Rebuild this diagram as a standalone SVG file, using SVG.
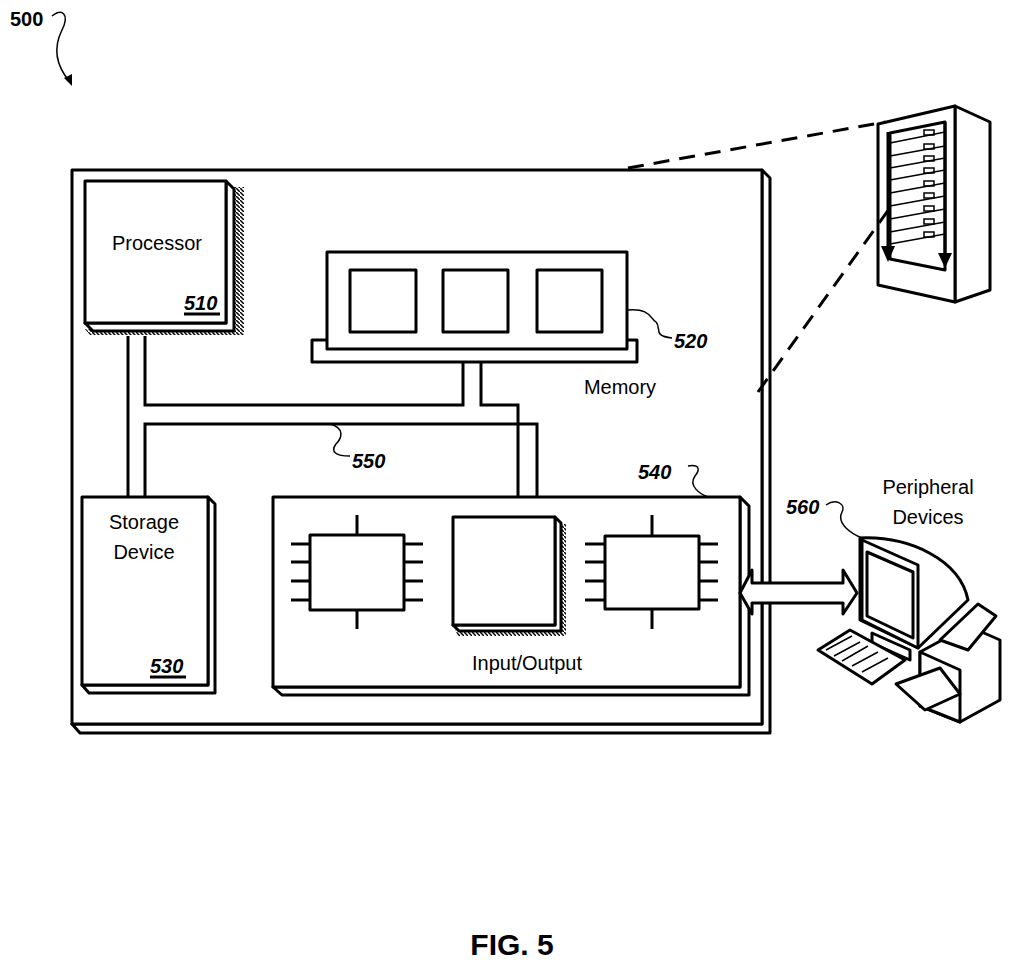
<svg xmlns="http://www.w3.org/2000/svg" width="1024" height="967" viewBox="0 0 1024 967">
<defs>
<style>
.s{fill:#fff;stroke:#000;stroke-width:3;stroke-linejoin:round}
.l{fill:none;stroke:#000;stroke-width:3}
.t{fill:none;stroke:#000;stroke-width:1.5}
.d{fill:none;stroke:#000;stroke-width:3;stroke-dasharray:16 10}
text{font-family:"Liberation Sans",Arial,sans-serif;fill:#000}
.lab{font-size:20px}
.num{font-size:20px;font-weight:bold;font-style:italic}
</style>
<pattern id="hv" width="4" height="4" patternUnits="userSpaceOnUse"><path d="M0,0 L4,4" stroke="#000" stroke-width="1.5"/></pattern>
</defs>
<rect width="1024" height="967" fill="#fff"/>
<g id="n500"><text class="num" x="10" y="26" style="font-style:normal">500</text>
<path class="t" d="M52,16 C62,8 70,14 62,30 C52,50 58,68 70,82"/><path d="M64,78 L72,86 L72,74 Z"/></g>
<g id="board">
<polygon class="s" points="762,170 770,178 770,733 80,733 72,724 762,724"/>
<rect class="s" x="72" y="170" width="690" height="554"/>
</g>
<g id="processor">
<polygon points="226,181 232,187 244,187 244,335 90,335 85,329 226,329" fill="url(#hv)"/>
<polygon class="s" points="226,181 234,189 234,331 93,331 85,323 226,323"/>
<rect class="s" x="85" y="181" width="141" height="142"/>
<text class="lab" x="157" y="250" text-anchor="middle">Processor</text>
<text class="num" x="184" y="310">510</text><path class="l" d="M184,314 H220" stroke-width="2"/>
</g>
<g id="memory">
<rect class="s" x="312" y="340" width="325" height="22"/>
<rect class="s" x="327" y="252" width="300" height="97"/>
<rect class="s" x="350" y="270" width="66" height="62"/>
<rect class="s" x="443" y="270" width="65" height="62"/>
<rect class="s" x="537" y="270" width="65" height="62"/>
<text class="lab" x="620" y="394" text-anchor="middle">Memory</text>
<path class="t" d="M627,310 C650,308 650,318 656,322 C662,328 652,336 672,338"/>
<text class="num" x="674" y="348">520</text>
</g>
<g id="bus550"><path class="t" d="M330,424 C345,428 342,438 336,444 C330,452 336,456 350,456"/>
<text class="num" x="352" y="468">550</text></g>
<g id="storage">
<polygon class="s" points="208,497 215,504 215,693 89,693 82,685 208,685"/>
<rect class="s" x="82" y="497" width="126" height="188"/>
<text class="lab" x="144" y="529" text-anchor="middle">Storage</text>
<text class="lab" x="144" y="559" text-anchor="middle">Device</text>
<text class="num" x="150" y="673">530</text><path class="l" d="M150,677 H186" stroke-width="2"/>
</g>
<g id="io">
<polygon class="s" points="740,497 749,506 749,695 282,695 273,687 740,687"/>
<rect class="s" x="273" y="497" width="467" height="190"/>
<path class="l" d="M291,544 H310 M291,562 H310 M291,581 H310 M291,600 H310 M404,544 H423 M404,562 H423 M404,581 H423 M404,600 H423 M357,515 V535 M357,610 V629"/>
<rect class="s" x="310" y="535" width="94" height="75"/>
<path class="l" d="M585,544 H605 M585,562 H605 M585,581 H605 M585,600 H605 M699,544 H718 M699,562 H718 M699,581 H718 M699,600 H718 M652,515 V536 M652,609 V629"/>
<rect class="s" x="605" y="536" width="94" height="73"/>
<polygon points="555,517 562,524 566,524 566,636 458,636 453,625 555,625" fill="url(#hv)"/>
<polygon class="s" points="555,517 561,523 561,631 459,631 453,625 555,625"/>
<rect class="s" x="453" y="517" width="102" height="108"/>
<text class="lab" x="527" y="670" text-anchor="middle">Input/Output</text>
<path class="t" d="M688,466 C700,464 700,470 695,476 C688,486 700,494 708,497"/>
<text class="num" x="638" y="479">540</text>
</g>
<g id="server">
<polygon class="s" points="955,106 990,122 990,290 955,302"/>
<polygon class="s" points="878,124 955,106 955,302 878,285"/>
<polygon class="s" points="890,133 945,122 945,270 890,259"/>
<path class="t" stroke-width="2" d="M890,143 L945,132 M890,156 L945,146 M890,168 L945,158 M890,180 L945,170 M890,193 L945,183 M890,206 L945,196 M890,219 L945,209 M890,232 L945,222 M890,244 L945,234"/>
<path class="t" d="M924,130 h10 v5 h-10 z M924,144 h10 v5 h-10 z M924,156 h10 v5 h-10 z M924,168 h10 v5 h-10 z M924,181 h10 v5 h-10 z M924,193 h10 v5 h-10 z M924,206 h10 v5 h-10 z M924,219 h10 v5 h-10 z M924,232 h10 v5 h-10 z"/>
<path class="l" d="M888,132 V248 M945,122 V258"/>
<path d="M881,246 L895,246 L888,262 Z M938,253 L952,253 L945,268 Z"/>
</g>
<g id="peripherals">
<text class="lab" x="928" y="494" text-anchor="middle">Peripheral</text>
<text class="lab" x="928" y="524" text-anchor="middle">Devices</text>
<text class="num" x="786" y="514">560</text>
<path class="t" d="M826,505 C836,498 846,504 842,512 C836,524 852,534 862,538"/>
<path class="s" d="M860,538 C910,536 960,560 968,600 L918,648 L860,620 Z"/>
<polygon class="s" points="862,540 918,565 918,648 862,620"/>
<polygon class="s" points="867,552 913,572 913,638 867,616"/>
<polygon class="s" points="872,633 910,650 910,660 872,643"/>
<polygon class="s" points="818,650 850,630 905,660 872,684"/>
<path class="t" d="M826,650 L852,636 M834,656 L860,642 M842,661 L868,646 M852,666 L878,652 M862,672 L888,658"/>
<polygon class="s" points="920,652 968,626 1000,640 1000,700 960,722 920,706"/>
<polygon class="s" points="920,652 960,670 960,722 920,706"/>
<polygon class="s" points="940,640 978,604 996,616 968,650"/>
<polygon class="s" points="896,684 940,668 960,694 925,710"/>
</g>
<g id="connectors">
<path class="d" d="M628,168 L885,122"/>
<path class="d" d="M758,392 L892,205"/>
<path class="l" d="M128,336 V497 M145,336 V405 H463 V362 M481,362 V405 H518 V497 M537,497 V424 H145 V497"/>
<path class="s" d="M740,593 L752,570 V583 H843 V570 L857,593 L843,614 V603 H752 V614 Z"/>
</g>
<text x="512" y="955" text-anchor="middle" style="font-size:30px;font-weight:bold">FIG. 5</text>
</svg>
